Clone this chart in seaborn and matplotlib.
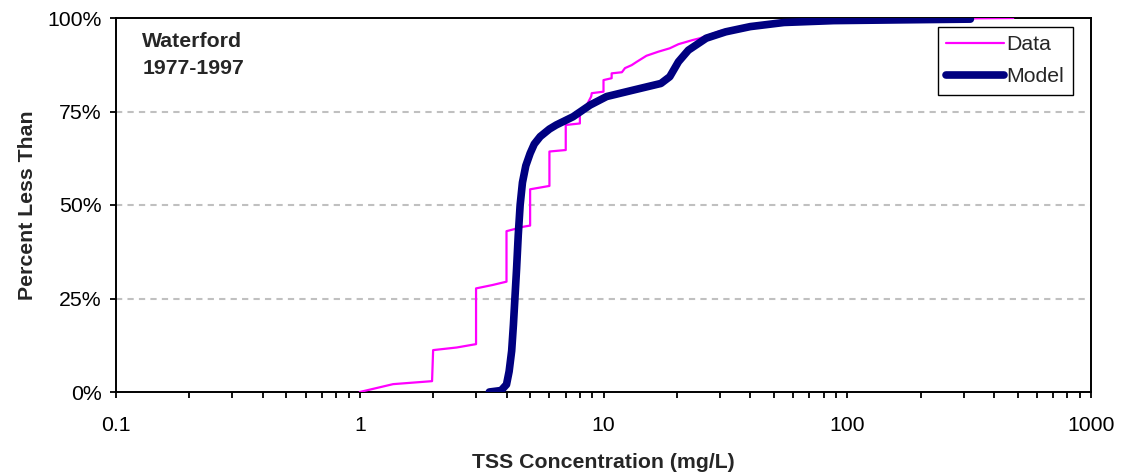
import numpy as np
import pandas as pd
import matplotlib
matplotlib.use("Agg")
import matplotlib.pyplot as plt
from matplotlib.ticker import FixedLocator, FuncFormatter, LogLocator, NullFormatter
import seaborn as sns

# Observed TSS exceedance curve (step vertices)
data_tss = [1.0, 1.37, 1.98, 2.0, 2.5, 3.0, 3.0, 3.5, 4.0, 4.0, 4.7, 5.0, 5.0,
            6.0, 6.0, 7.0, 7.0, 8.0, 8.0, 8.5, 8.9, 8.95, 10.0, 10.0, 10.8, 10.8,
            11.9, 12.25, 13.05, 13.7, 15.0, 16.8, 18.7, 20.3, 23.2, 24.9, 30.0,
            40.0, 60.0, 100.0, 200.0, 320.0, 480.0]
data_pct = [0.0, 2.1, 2.9, 11.2, 11.9, 12.8, 27.7, 28.6, 29.5, 43.0, 44.2, 44.5, 54.2,
            55.1, 64.3, 64.7, 71.4, 71.8, 74.5, 76.5, 79.0, 79.9, 80.3, 83.4, 83.9, 85.2,
            85.5, 86.6, 87.4, 88.3, 89.9, 91.0, 91.9, 93.0, 94.1, 94.6, 96.5,
            98.0, 99.0, 99.5, 99.8, 99.9, 100.0]

# Modelled TSS exceedance curve
model_tss = [3.4, 3.8, 4.0, 4.1, 4.2, 4.27, 4.33, 4.4, 4.47, 4.55, 4.65, 4.8, 5.0,
             5.2, 5.5, 6.0, 6.4, 7.5, 8.8, 10.3, 13.2, 17.2, 18.7, 20.3, 22.3, 26.4,
             31.7, 40.0, 55.0, 88.0, 164.0, 320.0]
model_pct = [0.0, 0.4, 2.0, 5.5, 11.0, 18.0, 25.0, 33.0, 42.0, 50.0, 56.0, 60.5, 63.8,
             66.3, 68.3, 70.3, 71.4, 73.6, 76.7, 79.0, 80.7, 82.5, 84.3, 88.3, 91.4, 94.6,
             96.3, 97.7, 98.8, 99.3, 99.5, 99.7]

y_ticks = [0, 25, 50, 75, 100]
x_ticks = [0.1, 1, 10, 100, 1000]

FS = 15.3

sns.set_style("ticks")
plt.rcParams["font.family"] = ["Liberation Sans", "DejaVu Sans"]

fig = plt.figure(figsize=(11.22, 4.74), dpi=100)
ax = fig.add_axes([116 / 1122, 1 - 392 / 474, 975 / 1122, 374 / 474])

df_data = pd.DataFrame({"tss": data_tss, "pct": data_pct})
df_model = pd.DataFrame({"tss": model_tss, "pct": model_pct})

# grid lines
for yv in y_ticks[1:-1]:
    ax.axhline(yv, color="#c0c0c0", lw=1.5, ls=(0, (3, 2.5)), zorder=0)

sns.lineplot(data=df_data, x="tss", y="pct", ax=ax, estimator=None, sort=False,
             color="#ff00ff", lw=1.6, label="Data", zorder=3)
sns.lineplot(data=df_model, x="tss", y="pct", ax=ax, estimator=None, sort=False,
             color="#000080", lw=5.5, label="Model", zorder=4,
             solid_capstyle="round", solid_joinstyle="round")

ax.set_xscale("log")
ax.set_xlim(0.1, 1000)
ax.set_ylim(0, 100)

ax.xaxis.set_major_locator(FixedLocator(x_ticks))
ax.xaxis.set_major_formatter(FuncFormatter(lambda v, p: f"{v:g}"))
ax.xaxis.set_minor_locator(LogLocator(base=10, subs=np.arange(2, 10)))
ax.xaxis.set_minor_formatter(NullFormatter())
ax.yaxis.set_major_locator(FixedLocator(y_ticks))
ax.yaxis.set_major_formatter(FuncFormatter(lambda v, p: f"{v:.0f}%"))

ax.tick_params(axis="both", which="major", direction="out", length=4.5, width=1.3,
               color="black", labelsize=FS, labelcolor="black")
ax.tick_params(axis="x", which="major", pad=13)
ax.tick_params(axis="y", which="major", pad=6)
ax.tick_params(axis="x", which="minor", direction="out", length=4.5, width=1.3,
               color="black")

for s in ax.spines.values():
    s.set_visible(True)
    s.set_color("black")
    s.set_linewidth(1.4)

ax.set_xlabel("TSS Concentration (mg/L)", fontsize=FS, fontweight="bold", labelpad=13)
ax.set_ylabel("Percent Less Than", fontsize=FS, fontweight="bold", labelpad=7)

ax.text(0.027, 0.962, "Waterford\n1977-1997", transform=ax.transAxes,
        fontsize=FS, fontweight="bold", va="top", ha="left", linespacing=1.55)

leg = ax.legend(loc="upper right", bbox_to_anchor=(0.9815, 0.976), fontsize=FS,
                frameon=True, fancybox=False, shadow=False, handlelength=2.7,
                handletextpad=0.15, borderpad=0.4, labelspacing=0.6,
                borderaxespad=0)
leg.get_frame().set_edgecolor("black")
leg.get_frame().set_linewidth(1.0)
leg.get_frame().set_alpha(1)

fig.savefig("out.png", dpi=100, facecolor="white")
